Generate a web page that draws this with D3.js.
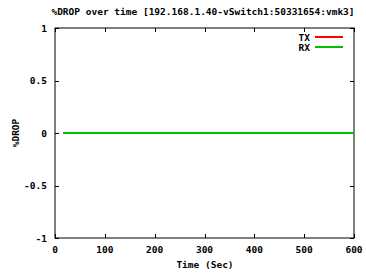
<!DOCTYPE html>
<meta charset="utf-8">
<style>
  body { margin: 0; background: #fff; }
  text { font-family: "DejaVu Sans Mono", monospace; font-weight: bold; font-size: 9.5px; fill: #000; }
</style>
<script src="https://d3js.org/d3.v7.min.js"></script>
<div id="chart"></div>
<script>
// data (flat at zero the whole run)
var times = [16, 45, 75, 105, 135, 165, 195, 225, 255, 285, 315, 345, 375, 405, 435, 465, 495, 525, 555, 585, 600];
var txDrop = [0, 0, 0, 0, 0, 0, 0, 0, 0, 0, 0, 0, 0, 0, 0, 0, 0, 0, 0, 0, 0];
var rxDrop = [0, 0, 0, 0, 0, 0, 0, 0, 0, 0, 0, 0, 0, 0, 0, 0, 0, 0, 0, 0, 0];
var xTicks = [0, 100, 200, 300, 400, 500, 600];
var yTicks = [-1, -0.5, 0, 0.5, 1];
var seriesNames = ["TX", "RX"];
var seriesColors = ["#ff0000", "#00c000"];

var W = 366, H = 278;
var margin = {top: 28, right: 12, bottom: 40, left: 55},
    width = W - margin.left - margin.right,
    height = H - margin.top - margin.bottom;

var svg = d3.select("#chart").append("svg")
    .attr("width", W).attr("height", H);

var g = svg.append("g")
    .attr("transform", "translate(" + margin.left + "," + margin.top + ")");

var x = d3.scaleLinear().domain([0, 600]).range([0, width]);
var y = d3.scaleLinear().domain([-1, 1]).range([height, 0]);

// border
g.append("rect")
    .attr("x", 0).attr("y", 0)
    .attr("width", width).attr("height", height)
    .attr("fill", "none").attr("stroke", "#000").attr("stroke-width", 1);

// inward ticks on all four sides
var tl = 4;
g.selectAll(".xt").data(xTicks).enter().append("path")
    .attr("d", function(d) {
      var px = Math.round(x(d)) + 0.5;
      return "M" + px + "," + height + "v" + (-tl) + "M" + px + ",0v" + tl;
    })
    .attr("stroke", "#000");
g.selectAll(".yt").data(yTicks).enter().append("path")
    .attr("d", function(d) {
      var py = Math.round(y(d)) + 0.5;
      return "M0," + py + "h" + tl + "M" + width + "," + py + "h" + (-tl);
    })
    .attr("stroke", "#000");

// tick labels
g.selectAll(".xl").data(xTicks).enter().append("text")
    .attr("x", function(d) { return x(d); })
    .attr("y", height + 15)
    .attr("text-anchor", "middle")
    .text(function(d) { return d; });
g.selectAll(".yl").data(yTicks).enter().append("text")
    .attr("x", -8)
    .attr("y", function(d) { return y(d) + 3.5; })
    .attr("text-anchor", "end")
    .text(function(d) { return d; });

// titles
svg.append("text")
    .attr("x", 203).attr("y", 15)
    .attr("text-anchor", "middle")
    .text("%DROP over time [192.168.1.40-vSwitch1:50331654:vmk3]");
svg.append("text")
    .attr("x", 205).attr("y", 268)
    .attr("text-anchor", "middle")
    .text("Time (Sec)");
svg.append("text")
    .attr("transform", "translate(19," + (margin.top + height / 2) + ") rotate(-90)")
    .attr("text-anchor", "middle")
    .text("%DROP");

// lines
var line = d3.line()
    .x(function(d) { return x(d[0]); })
    .y(function(d) { return y(d[1]); });
[txDrop, rxDrop].forEach(function(vals, i) {
  g.append("path")
    .datum(times.map(function(t, k) { return [t, vals[k]]; }))
    .attr("fill", "none")
    .attr("stroke", seriesColors[i])
    .attr("stroke-width", 2)
    .attr("d", line);
});

// legend
var leg = g.selectAll(".leg").data(seriesNames).enter().append("g")
    .attr("transform", function(d, i) { return "translate(0," + (9 + i * 10) + ")"; });
leg.append("text")
    .attr("x", 255).attr("y", 3.5)
    .attr("text-anchor", "end")
    .text(function(d) { return d; });
leg.append("line")
    .attr("x1", 260).attr("x2", 288)
    .attr("y1", 0).attr("y2", 0)
    .attr("stroke", function(d, i) { return seriesColors[i]; })
    .attr("stroke-width", 2);
</script>
